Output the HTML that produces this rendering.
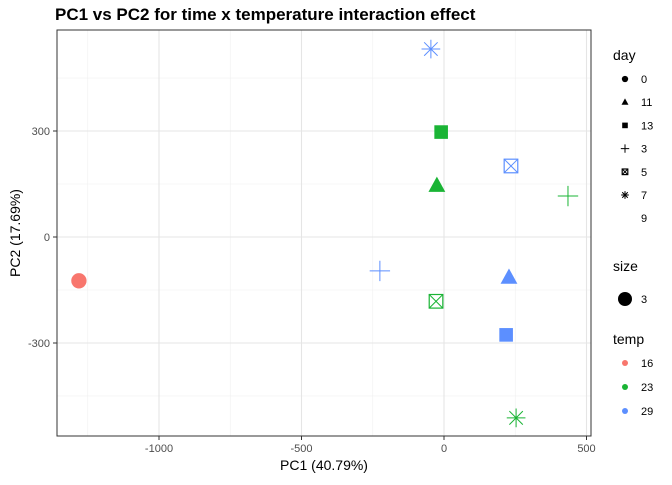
<!DOCTYPE html>
<html><head><meta charset="utf-8"><style>
body{margin:0;background:#fff;font-family:"Liberation Sans",Arial,sans-serif}
</style></head><body>
<svg id="chart" width="672" height="480" xmlns="http://www.w3.org/2000/svg">
<text x="55" y="20" font-size="17" font-weight="bold" fill="#000">PC1 vs PC2 for time x temperature interaction effect</text>
<g id="grid"></g>
<g id="pts"></g>
<rect x="57" y="30" width="534" height="406" fill="none" stroke="#333" stroke-width="1"/>
<g id="axes" font-size="11" fill="#4d4d4d"></g>
<text x="324" y="470" font-size="14" text-anchor="middle">PC1 (40.79%)</text>
<text transform="translate(20,233) rotate(-90)" font-size="14" text-anchor="middle">PC2 (17.69%)</text>
<g id="legend" font-size="11"></g>
</svg>
<script>
const pc1 = [-1281, -46, -10, 235, -25, 435, -225, 228, -28, 218, 253];
const pc2 = [-124, 532, 297, 201, 145, 116, -96, -115, -182, -277, -512];
const temps = ["16","29","23","29","23","23","29","29","23","29","23"];
const days = ["0","7","13","5","11","3","3","11","5","13","7"];
const xTicks = [-1000, -500, 0, 500];
const yTicks = [-300, 0, 300];
const xMinor = [-1250, -750, -250, 250];
const yMinor = [-450, -150, 150, 450];
const dayLevels = ["0","11","13","3","5","7","9"];
const tempLevels = ["16","23","29"];
const colors = {"16":"#F8766D","23":"#1AB435","29":"#5C8FFF"};
const NS="http://www.w3.org/2000/svg";
function X(v){return 444+v*0.285;}
function Y(v){return 237-v*0.3533;}
function mk(tag,attrs,parent){const e=document.createElementNS(NS,tag);for(const k in attrs)e.setAttribute(k,attrs[k]);parent.appendChild(e);return e;}
const grid=document.getElementById('grid');
xMinor.forEach(v=>{const l=mk('line',{x1:X(v),x2:X(v),y1:30,y2:436,stroke:'#f0f0f0','stroke-width':0.6},grid);

});
yMinor.forEach(v=>{const l=mk('line',{x1:57,x2:591,y1:Y(v),y2:Y(v),stroke:'#f0f0f0','stroke-width':0.6},grid);

});
const axes=document.getElementById('axes');
xTicks.forEach(v=>{const l=mk('line',{x1:X(v),x2:X(v),y1:30,y2:436,stroke:'#e5e5e5','stroke-width':1.1},grid);


const t=mk('line',{x1:X(v),x2:X(v),y1:436,y2:440,stroke:'#333'},axes);


const tx=mk('text',{x:X(v),y:452,'text-anchor':'middle'},axes);tx.textContent=v;

});
yTicks.forEach(v=>{const l=mk('line',{x1:57,x2:591,y1:Y(v),y2:Y(v),stroke:'#e5e5e5','stroke-width':1.1},grid);


const t=mk('line',{x1:53,x2:57,y1:Y(v),y2:Y(v),stroke:'#333'},axes);


const tx=mk('text',{x:50,y:Y(v)+4,'text-anchor':'end'},axes);tx.textContent=v;

});
function shape(day,cx,cy,s,col,parent){
 const g=mk('g',{},parent);
 if(day==="0"){mk('circle',{cx,cy,r:s*0.45,fill:col},g);}
 else if(day==="11"){const h=s*0.9;mk('polygon',{points:`${cx},${cy-h*0.6} ${cx-h*0.55},${cy+h*0.4} ${cx+h*0.55},${cy+h*0.4}`,fill:col},g);}
 else if(day==="13"){mk('rect',{x:cx-s*0.4,y:cy-s*0.4,width:s*0.8,height:s*0.8,fill:col},g);}
 else if(day==="3"){const h=s*0.6;mk('path',{d:`M${cx-h},${cy}H${cx+h}M${cx},${cy-h}V${cy+h}`,stroke:col,'stroke-width':1,fill:'none'},g);}
 else if(day==="5"){const h=s*0.4;mk('rect',{x:cx-h,y:cy-h,width:2*h,height:2*h,stroke:col,fill:'none','stroke-width':1.2},g);mk('path',{d:`M${cx-h},${cy-h}L${cx+h},${cy+h}M${cx+h},${cy-h}L${cx-h},${cy+h}`,stroke:col,'stroke-width':1},g);}
 else if(day==="7"){const h=s*0.55,d=h*0.72;mk('path',{d:`M${cx-h},${cy}H${cx+h}M${cx},${cy-h}V${cy+h}M${cx-d},${cy-d}L${cx+d},${cy+d}M${cx+d},${cy-d}L${cx-d},${cy+d}`,stroke:col,'stroke-width':1,fill:'none'},g);}
 return g;}
const pts=document.getElementById('pts');
pc1.forEach((v,i)=>{const g=shape(days[i],X(v),Y(pc2[i]),17,colors[temps[i]],pts);

});
const lg=document.getElementById('legend');
function txt(x,y,s,size,name){const t=mk('text',{x,y,'font-size':size||11},lg);t.textContent=s;return t;}
txt(613,60,'day',14,'legend-day-title');
dayLevels.forEach((d,i)=>{const y=79+i*23.2;const g=shape(d,625,y,7,'#000',lg);


txt(641,y+4,d,11,'legend-day-label');});
txt(613,271,'size',14,'legend-size-title');
const c=mk('circle',{cx:625,cy:299,r:7,fill:'#000'},lg);


txt(641,303,'3',11,'legend-size-label');
txt(613,344,'temp',14,'legend-temp-title');
tempLevels.forEach((t,i)=>{const y=363+i*24;const k=mk('circle',{cx:625,cy:y,r:3,fill:colors[t]},lg);


txt(641,y+4,t,11,'legend-temp-label');});
</script>
</body></html>
